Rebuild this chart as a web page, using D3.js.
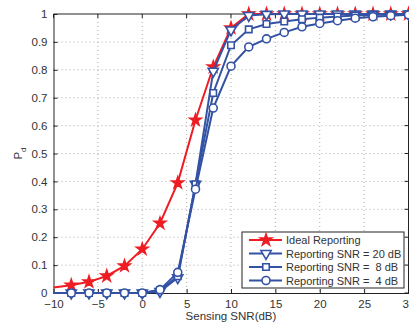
<!DOCTYPE html>
<html>
<head>
<meta charset="utf-8">
<script src="https://cdn.jsdelivr.net/npm/d3@7"></script>
<style>
  html, body { margin: 0; padding: 0; background: #fff; }
  svg text { font-family: "Liberation Sans", Arial, sans-serif; }
</style>
</head>
<body>
<div id="chart"></div>
<script>
// Sensing SNR (dB) sample points
var snr = [-10, -8, -6, -4, -2, 0, 2, 4, 6, 8, 10, 12, 14, 16, 18, 20, 22, 24, 26, 28, 30];

var ideal  = [0.02, 0.028, 0.04, 0.061, 0.097, 0.157, 0.25, 0.395, 0.62, 0.81, 0.95, 1.0, 1.0, 1.0, 1.0, 1.0, 1.0, 1.0, 1.0, 1.0, 1.0];
var snr20  = [0, 0, 0, 0, 0, 0, 0.005, 0.055, 0.39, 0.795, 0.943, 0.995, 0.999, 1.0, 1.0, 1.0, 1.0, 1.0, 1.0, 1.0, 1.0];
var snr8   = [0, 0, 0, 0, 0, 0, 0.01, 0.06, 0.39, 0.717, 0.888, 0.945, 0.964, 0.973, 0.981, 0.987, 0.991, 0.995, 0.997, 0.998, 0.999];
var snr4   = [0, 0, 0, 0, 0, 0, 0.012, 0.074, 0.372, 0.663, 0.813, 0.882, 0.911, 0.934, 0.954, 0.966, 0.976, 0.985, 0.99, 0.994, 0.997];

var seriesNames = ['Ideal Reporting', 'Reporting SNR = 20 dB', 'Reporting SNR =  8 dB', 'Reporting SNR =  4 dB'];
var xTicks = [-10, -5, 0, 5, 10, 15, 20, 25, 30];
var yTicks = [0, 0.1, 0.2, 0.3, 0.4, 0.5, 0.6, 0.7, 0.8, 0.9, 1];

var RED = '#ee1d23';
var BLUE = '#3352a4';

var W = 409, H = 325;
var margin = { top: 14, right: 0.5, bottom: 32, left: 53.5 };
var width = W - margin.left - margin.right;
var height = H - margin.top - margin.bottom;

var svg = d3.select('#chart').append('svg')
  .attr('width', W).attr('height', H);

var g = svg.append('g')
  .attr('transform', 'translate(' + margin.left + ',' + margin.top + ')');

var x = d3.scaleLinear().domain([-10, 30]).range([0, width]);
var y = d3.scaleLinear().domain([0, 1]).range([height, 0]);

// Dotted grid
g.selectAll('.vgrid').data(xTicks.slice(1, -1)).enter().append('line')
  .attr('x1', function(d) { return x(d); }).attr('x2', function(d) { return x(d); })
  .attr('y1', 0).attr('y2', height)
  .attr('stroke', '#999').attr('stroke-width', 0.8).attr('stroke-dasharray', '1,3');
g.selectAll('.hgrid').data(yTicks.slice(1, -1)).enter().append('line')
  .attr('x1', 0).attr('x2', width)
  .attr('y1', function(d) { return y(d); }).attr('y2', function(d) { return y(d); })
  .attr('stroke', '#999').attr('stroke-width', 0.8).attr('stroke-dasharray', '1,3');

// Axes (ticks inside, like matlab)
var xAxis = g.append('g')
  .attr('transform', 'translate(0,' + height + ')')
  .call(d3.axisBottom(x).tickValues(xTicks).tickSizeInner(-4).tickSizeOuter(0).tickPadding(7)
    .tickFormat(function(d) { return d < 0 ? '\u2212' + Math.abs(d) : d; }));
var yAxis = g.append('g')
  .call(d3.axisLeft(y).tickValues(yTicks).tickSizeInner(-4).tickSizeOuter(0).tickPadding(6)
    .tickFormat(function(d) { return d === 0 || d === 1 ? d : d3.format('.1f')(d); }));
[xAxis, yAxis].forEach(function(a) {
  a.selectAll('text').attr('fill', '#333').style('font-size', '11.5px');
  a.selectAll('.domain, .tick line').attr('stroke', '#222');
});

// top and right box edges
g.append('line').attr('x1', 0).attr('x2', width).attr('y1', 0).attr('y2', 0).attr('stroke', '#222');
g.append('line').attr('x1', width).attr('x2', width).attr('y1', 0).attr('y2', height).attr('stroke', '#222');
g.selectAll('.rt').data(yTicks).enter().append('line')
  .attr('x1', width - 4).attr('x2', width)
  .attr('y1', function(d) { return y(d); }).attr('y2', function(d) { return y(d); })
  .attr('stroke', '#222');
g.selectAll('.tt').data(xTicks).enter().append('line')
  .attr('x1', function(d) { return x(d); }).attr('x2', function(d) { return x(d); })
  .attr('y1', 0).attr('y2', 4)
  .attr('stroke', '#222');

// Labels
svg.append('text')
  .attr('x', margin.left + x(10)).attr('y', 320)
  .attr('text-anchor', 'middle').attr('fill', '#333').style('font-size', '11.5px')
  .text('Sensing SNR(dB)');
var yl = svg.append('text')
  .attr('transform', 'translate(22,' + (margin.top + height / 2) + ') rotate(-90)')
  .attr('text-anchor', 'middle').attr('fill', '#333').style('font-size', '11.5px');
yl.append('tspan').text('P');
yl.append('tspan').attr('dy', 4).style('font-size', '8px').text('d');

// Markers
var star = d3.symbol().type(d3.symbolStar).size(40);
var tri = d3.symbol().type(d3.symbolTriangle).size(45);
var sq = d3.symbol().type(d3.symbolSquare).size(42);
var circ = d3.symbol().type(d3.symbolCircle).size(50);

var series = [
  { name: seriesNames[0], values: ideal, color: RED, sym: star, rot: 0, fill: RED },
  { name: seriesNames[1], values: snr20, color: BLUE, sym: tri, rot: 180, fill: '#fff' },
  { name: seriesNames[2], values: snr8, color: BLUE, sym: sq, rot: 0, fill: '#fff' },
  { name: seriesNames[3], values: snr4, color: BLUE, sym: circ, rot: 0, fill: '#fff' }
];

var line = d3.line()
  .x(function(d) { return x(d[0]); })
  .y(function(d) { return y(d[1]); });

series.forEach(function(s) {
  var pts = snr.map(function(v, i) { return [v, s.values[i]]; });
  g.append('path').datum(pts)
    .attr('d', line).attr('fill', 'none')
    .attr('stroke', s.color).attr('stroke-width', 2);
  g.selectAll(null).data(pts.filter(function(p) { return p[0] > -10; })).enter().append('path')
    .attr('d', s.sym)
    .attr('transform', function(p) { return 'translate(' + x(p[0]) + ',' + y(p[1]) + ') rotate(' + s.rot + ')'; })
    .attr('fill', s.fill).attr('stroke', s.color).attr('stroke-width', 1.6);
});

// Legend
var lg = svg.append('g').attr('transform', 'translate(242,232)');
lg.append('rect').attr('width', 162).attr('height', 56)
  .attr('fill', '#fff').attr('stroke', '#222').attr('stroke-width', 1);
series.forEach(function(s, i) {
  var yy = 8 + i * 13.5;
  lg.append('line').attr('x1', 7).attr('x2', 40).attr('y1', yy).attr('y2', yy)
    .attr('stroke', s.color).attr('stroke-width', 2);
  lg.append('path').attr('d', s.sym)
    .attr('transform', 'translate(24,' + yy + ') rotate(' + s.rot + ')')
    .attr('fill', s.fill).attr('stroke', s.color).attr('stroke-width', 1.6);
  lg.append('text').attr('x', 44).attr('y', yy + 4)
    .attr('fill', '#333').style('font-size', '11px')
    .attr('xml:space', 'preserve').style('white-space', 'pre')
    .text(s.name);
});
</script>
</body>
</html>
